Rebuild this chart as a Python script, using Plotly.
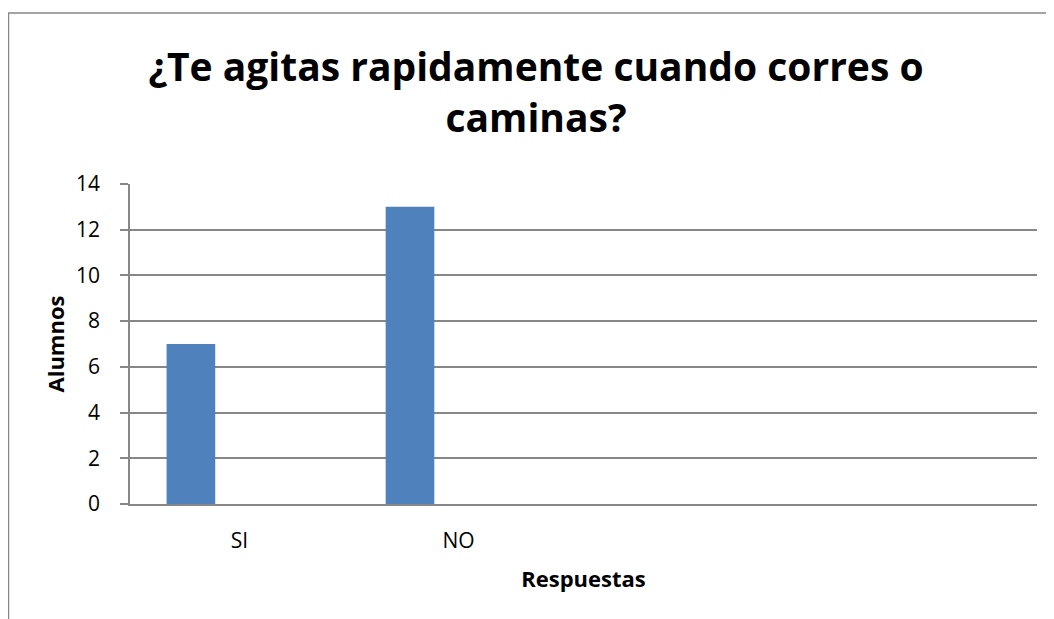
import plotly.graph_objects as go

# datos
respuestas = ["SI", "NO"]
alumnos = [7, 13]
y_ticks = [0, 2, 4, 6, 8, 10, 12, 14]

AZUL = "#4F81BD"
GRIS = "#878787"
FUENTE = "Open Sans"

# la página añade 8 px de margen al body: la figura se reduce para caber en la ventana
W, H = 1046, 611
L, R, T, B = 122, 17, 176, 115   # área de trazado
pw, ph = W - L - R, H - T - B


def px_x(p):
    return (p - L) / pw


def px_y(p):
    return (H - B - p) / ph


fig = go.Figure()
fig.add_bar(
    x=respuestas, y=alumnos, marker_color=AZUL, marker_line_width=0,
    width=0.222, offset=-0.333, showlegend=False,
)

fig.update_layout(
    width=W, height=H, margin=dict(l=L, r=R, t=T, b=B),
    paper_bgcolor="white", plot_bgcolor="white",
    font=dict(family=FUENTE, color="black"),
    title=dict(
        text="<b>¿Te agitas rapidamente cuando corres o<br>caminas?</b>",
        font=dict(family=FUENTE, size=39, color="black"),
        x=528 / W, xanchor="center", y=1 - 73 / H, yanchor="top", yref="container",
    ),
    xaxis=dict(
        range=[-0.5, 3.64], showgrid=False, showline=True, linecolor=GRIS, linewidth=1.5,
        ticks="", tickfont=dict(size=21), ticklabelstandoff=17,
        title=dict(text="<b>Respuestas</b>", font=dict(size=22), standoff=19),
    ),
    yaxis=dict(
        range=[0, 14], tickvals=y_ticks, showgrid=True, gridcolor=GRIS, gridwidth=1.5,
        showline=True, linecolor=GRIS, linewidth=1.5, ticks="outside", ticklen=8,
        tickcolor=GRIS, tickwidth=1.5, tickfont=dict(size=21), ticklabelstandoff=16,
        zeroline=False,
        title=dict(text="<b>Alumnos</b>", font=dict(size=22), standoff=5),
    ),
)

# borde del área del gráfico (recortado a la derecha y abajo)
fig.add_shape(
    type="rect", xref="paper", yref="paper",
    x0=px_x(0.5), x1=px_x(W + 10), y0=px_y(H + 10), y1=px_y(5),
    line=dict(color=GRIS, width=1.5), layer="below",
)

fig.write_html("out.html")
